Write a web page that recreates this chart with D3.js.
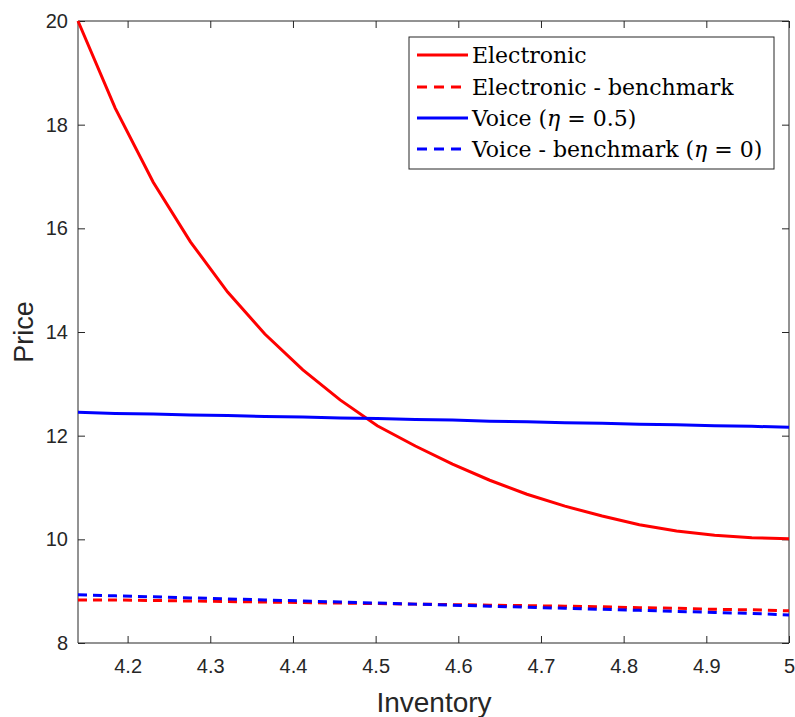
<!DOCTYPE html>
<meta charset="utf-8">
<style>
  body { margin: 0; background: #fff; }
  .tick text { font-family: "Liberation Sans", Arial, sans-serif; font-size: 20px; fill: #262626; }
  .legend text { font-family: "DejaVu Serif", "Liberation Serif", serif; font-size: 22px; fill: #000; }
</style>
<body>
<svg id="chart" width="795" height="717"></svg>
<script src="https://d3js.org/d3.v7.min.js"></script>
<script>
// inventory grid (20 points)
var inventory = [4.14, 4.185, 4.231, 4.276, 4.321, 4.366, 4.412, 4.457, 4.502, 4.548,
                 4.593, 4.638, 4.683, 4.729, 4.774, 4.819, 4.864, 4.910, 4.955, 5.0];

var electronic = [20.0, 18.32, 16.89, 15.74, 14.77, 13.96, 13.27, 12.69, 12.19, 11.80,
                  11.45, 11.14, 10.87, 10.64, 10.45, 10.28, 10.16, 10.08, 10.03, 10.01];
var electronicBench = [8.83, 8.83, 8.82, 8.81, 8.80, 8.79, 8.78, 8.77, 8.76, 8.75,
                       8.74, 8.73, 8.72, 8.71, 8.70, 8.68, 8.67, 8.65, 8.64, 8.62];
var voice = [12.45, 12.43, 12.42, 12.40, 12.39, 12.37, 12.36, 12.34, 12.33, 12.31,
             12.30, 12.28, 12.27, 12.25, 12.24, 12.22, 12.21, 12.19, 12.18, 12.16];
var voiceBench = [8.93, 8.91, 8.89, 8.87, 8.85, 8.83, 8.81, 8.79, 8.77, 8.75,
                  8.73, 8.71, 8.69, 8.67, 8.65, 8.63, 8.61, 8.59, 8.57, 8.54];

var xTicks = [4.2, 4.3, 4.4, 4.5, 4.6, 4.7, 4.8, 4.9, 5];
var yTicks = [8, 10, 12, 14, 16, 18, 20];

var series = [
  {name: "Electronic", values: electronic, color: "#ff0000", dash: null},
  {name: "Electronic - benchmark", values: electronicBench, color: "#ff0000", dash: "9,6"},
  {name: "Voice (η = 0.5)", values: voice, color: "#0000ff", dash: null},
  {name: "Voice - benchmark (η = 0)", values: voiceBench, color: "#0000ff", dash: "9,6"}
];

var svg = d3.select("#chart");
var mLeft = 78, mRight = 789, mTop = 21, mBottom = 643;

var x = d3.scaleLinear().domain([4.14, 5]).range([mLeft, mRight]);
var y = d3.scaleLinear().domain([8, 20]).range([mBottom, mTop]);

// axes (ticks inside, box on all sides)
svg.append("g").attr("class", "axis")
  .attr("transform", "translate(0," + mBottom + ")")
  .call(d3.axisBottom(x).tickValues(xTicks).tickSize(-7).tickPadding(16).tickFormat(d3.format("")))
  .call(g => g.select(".domain").attr("d", "M" + mLeft + ",0H" + mRight));
svg.append("g").attr("class", "axis")
  .attr("transform", "translate(0," + mTop + ")")
  .call(d3.axisTop(x).tickValues(xTicks).tickSize(-7).tickFormat(""))
  .call(g => g.select(".domain").attr("d", "M" + mLeft + ",0H" + mRight));
svg.append("g").attr("class", "axis")
  .attr("transform", "translate(" + mLeft + ",0)")
  .call(d3.axisLeft(y).tickValues(yTicks).tickSize(-7).tickPadding(10))
  .call(g => g.select(".domain").attr("d", "M0," + mTop + "V" + mBottom));
svg.append("g").attr("class", "axis")
  .attr("transform", "translate(" + mRight + ",0)")
  .call(d3.axisRight(y).tickValues(yTicks).tickSize(-7).tickFormat(""))
  .call(g => g.select(".domain").attr("d", "M0," + mTop + "V" + mBottom));

svg.selectAll(".axis path, .axis line").attr("stroke", "#262626").attr("stroke-width", 1);

// axis labels
svg.append("text")
  .attr("x", 434).attr("y", 712)
  .attr("text-anchor", "middle")
  .style("font-family", "Liberation Sans, Arial, sans-serif")
  .style("font-size", "28px").style("fill", "#262626")
  .text("Inventory");
svg.append("text")
  .attr("transform", "translate(33,332) rotate(-90)")
  .attr("text-anchor", "middle")
  .style("font-family", "Liberation Sans, Arial, sans-serif")
  .style("font-size", "27px").style("fill", "#262626")
  .text("Price");

// lines
var line = d3.line()
  .x((d, i) => x(inventory[i]))
  .y(d => y(d));

var plot = svg.append("g");
series.forEach(function(s) {
  plot.append("path")
    .datum(s.values)
    .attr("fill", "none")
    .attr("stroke", s.color)
    .attr("stroke-width", 3)
    .attr("stroke-dasharray", s.dash)
    .attr("d", line);
});

// legend
var legend = svg.append("g").attr("class", "legend");
legend.append("rect")
  .attr("x", 409).attr("y", 37).attr("width", 365).attr("height", 132)
  .attr("fill", "#fff").attr("stroke", "#262626").attr("stroke-width", 1);

var rowY = [55, 87, 118, 149];
series.forEach(function(s, i) {
  legend.append("line")
    .attr("x1", 417).attr("x2", 468)
    .attr("y1", rowY[i]).attr("y2", rowY[i])
    .attr("stroke", s.color).attr("stroke-width", 3)
    .attr("stroke-dasharray", s.dash ? "10,7" : null);
  var t = legend.append("text").attr("x", 472).attr("y", rowY[i] + 8);
  if (s.name.indexOf("η") >= 0) {
    var parts = s.name.split("η");
    t.append("tspan").text(parts[0]);
    t.append("tspan").style("font-style", "italic").text("η");
    t.append("tspan").text(parts[1]);
  } else {
    t.text(s.name);
  }
});
</script>
</body>
